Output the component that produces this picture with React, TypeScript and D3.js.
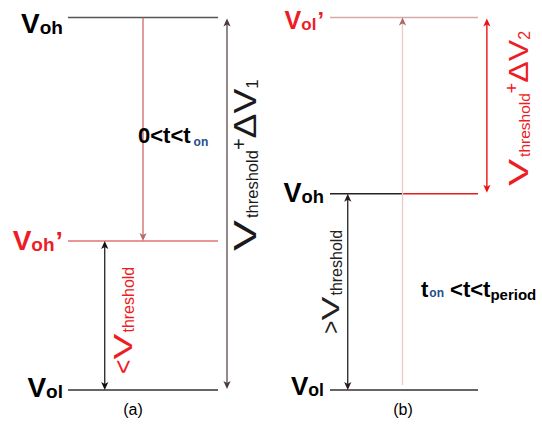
import React from 'react';
import * as d3 from 'd3';

const W = 542;
const H = 425;

// Voltage levels of each panel, normalised to the panel's highest level
const levelSubsA = ['oh', 'oh', 'ol'];
const levelPrimeA = [false, true, false];
const levelValuesA = [1, 0.4, 0];

const levelSubsB = ['ol', 'oh', 'ol'];
const levelPrimeB = [true, false, false];
const levelValuesB = [1, 0.527, 0];

// Time-interval captions
const captionA = ['0<t<t', 'on'];
const captionB = ['t', 'on', ' <t<t', 'period'];
const panelTags = ['(a)', '(b)'];

const RED = '#ee1c24';
const FONT = '"Liberation Sans", Arial, sans-serif';

let ctx: CanvasRenderingContext2D | null = null;
function textWidth(t: string, size: number, weight = 'normal') {
  if (!ctx) ctx = document.createElement('canvas').getContext('2d');
  ctx!.font = `${weight} ${size}px "Liberation Sans"`;
  return ctx!.measureText(t).width;
}

type Seg = {
  t: string;
  size: number;
  weight?: string;
  color?: string;
  shift?: number;
  stretch?: number;
  gap?: number;
};

function RichText({ x, y, segs, rotate = 0, anchor = 'start', color = '#000' }: {
  x: number; y: number; segs: Seg[]; rotate?: number; anchor?: string; color?: string;
}) {
  let off = 0;
  const items = segs.map((s) => {
    off += s.gap ?? 0;
    const it = { ...s, off };
    off += textWidth(s.t, s.size, s.weight ?? 'normal') * (s.stretch ?? 1);
    return it;
  });
  const start = anchor === 'middle' ? -off / 2 : anchor === 'end' ? -off : 0;
  return (
    <g transform={`translate(${x},${y}) rotate(${rotate})`}>
      {items.map((s, i) => (
        <text
          key={i}
          transform={`translate(${start + s.off},${s.shift ?? 0}) scale(${s.stretch ?? 1},1)`}
          fontSize={s.size}
          fontWeight={s.weight ?? 'normal'}
          fill={s.color ?? color}
          fontFamily={FONT}
          style={{ whiteSpace: 'pre' }}
        >
          {s.t}
        </text>
      ))}
    </g>
  );
}

// Filled arrow head with its tip at (x, y), pointing up (dir=-1) or down (dir=1)
function Head({ x, y, dir, color }: { x: number; y: number; dir: number; color: string }) {
  const L = 8, hw = 3.6, notch = 2;
  const p = d3.path();
  p.moveTo(x, y);
  p.lineTo(x - hw, y - dir * L);
  p.lineTo(x, y - dir * (L - notch));
  p.lineTo(x + hw, y - dir * L);
  p.closePath();
  return <path d={p.toString()} fill={color} />;
}

const yScale = d3.scaleLinear().domain([0, 1]).range([390, 17.5]);
const xA = d3.scaleLinear().domain([0, 1]).range([68, 218]);
const xB = d3.scaleLinear().domain([0, 1]).range([330, 478]);

function LevelLabel({ x, y, sub, prime, color, size }: {
  x: number; y: number; sub: string; prime: boolean; color: string; size: number;
}) {
  const segs: Seg[] = [
    { t: 'V', size, weight: 'bold' },
    { t: sub, size: size * 0.68, weight: 'bold', shift: 1 },
  ];
  if (prime) segs.push({ t: '\u2019', size: size * 0.95, weight: 'bold', gap: 1 });
  return <RichText x={x} y={y} segs={segs} anchor="end" color={color} />;
}

export default function App() {
  const labelDyA = [15, 9, 7];
  const labelDyB = [11, 8, 5];
  const labelColorA = ['#000', RED, '#000'];
  const labelColorB = [RED, '#000', '#000'];
  const labelSizeA = [28, 28, 28];
  const labelSizeB = [25, 27, 26];

  const lineColorA = ['#555', '#e57373', '#333'];
  const lineColorB = ['#d8a9a9', null, '#333'];

  const axA = xA(0.5), bkA = xA(0.245), grA = xA(1.06);
  const pkB = xB(0.49), bkB = xB(0.12), rdB = xB(1.06);

  return (
    <svg width={W} height={H} style={{ display: 'block', position: 'absolute', left: 0, top: 0 }}>
      <rect width={W} height={H} fill="#fff" />

      {/* Panel (a) levels */}
      {levelValuesA.map((v, i) => (
        <g key={'a' + i}>
          <line x1={xA(0)} x2={xA(1)} y1={yScale(v)} y2={yScale(v)} stroke={lineColorA[i]} strokeWidth={1.4} />
          <LevelLabel x={xA(0) - 5} y={yScale(v) + labelDyA[i]} sub={levelSubsA[i]} prime={levelPrimeA[i]}
            color={labelColorA[i]} size={labelSizeA[i]} />
        </g>
      ))}

      {/* Panel (a): drop from Voh to Voh' */}
      <line x1={axA} x2={axA} y1={yScale(levelValuesA[0])} y2={yScale(levelValuesA[1]) - 4} stroke="#c95c5c" strokeWidth={1.2} />
      <Head x={axA} y={yScale(levelValuesA[1])} dir={1} color="#b86a6a" />

      {/* Panel (a): below-threshold span */}
      <line x1={bkA} x2={bkA} y1={yScale(levelValuesA[1]) + 4} y2={yScale(levelValuesA[2]) - 4} stroke="#111" strokeWidth={1.2} />
      <Head x={bkA} y={yScale(levelValuesA[1])} dir={-1} color="#111" />
      <Head x={bkA} y={yScale(levelValuesA[2])} dir={1} color="#111" />

      {/* Panel (a): full swing */}
      <line x1={grA} x2={grA} y1={yScale(levelValuesA[0]) + 4} y2={yScale(levelValuesA[2]) - 4} stroke="#7a6a6a" strokeWidth={1.6} />
      <Head x={grA} y={yScale(levelValuesA[0]) + 1} dir={-1} color="#4a3a3a" />
      <Head x={grA} y={yScale(levelValuesA[2]) - 1} dir={1} color="#4a3a3a" />

      <RichText x={138} y={143} segs={[
        { t: captionA[0], size: 22, weight: 'bold' },
        { t: captionA[1], size: 12, weight: 'bold', color: '#1f4e8c', shift: 3, gap: 3 },
      ]} />

      <RichText x={256} y={251} rotate={-90} color="#1a1a1a" segs={[
        { t: 'V', size: 31, stretch: 1.5 },
        { t: 'threshold', size: 16.5, shift: 2, gap: 2 },
        { t: '+', size: 20, shift: -10 },
        { t: '\u0394V', size: 31, stretch: 1.2 },
        { t: '1', size: 17, shift: 2 },
      ]} />

      <RichText x={132} y={374} rotate={-90} color={RED} segs={[
        { t: '<', size: 25 },
        { t: 'V', size: 25, stretch: 1.55 },
        { t: 'threshold', size: 16, shift: 2, gap: 1 },
      ]} />

      <text x={133} y={415} textAnchor="middle" fontSize={16} fontFamily={FONT}>{panelTags[0]}</text>

      {/* Panel (b) levels */}
      {levelValuesB.map((v, i) => (
        <g key={'b' + i}>
          {lineColorB[i] ? (
            <line x1={xB(0)} x2={xB(1)} y1={yScale(v)} y2={yScale(v)} stroke={lineColorB[i]!} strokeWidth={1.4} />
          ) : (
            <>
              <line x1={xB(0)} x2={pkB} y1={yScale(v)} y2={yScale(v)} stroke="#222" strokeWidth={1.4} />
              <line x1={pkB} x2={xB(1)} y1={yScale(v)} y2={yScale(v)} stroke="#e02020" strokeWidth={1.4} />
            </>
          )}
          <LevelLabel x={xB(0) - 6} y={yScale(v) + labelDyB[i]} sub={levelSubsB[i]} prime={levelPrimeB[i]}
            color={labelColorB[i]} size={labelSizeB[i]} />
        </g>
      ))}

      {/* Panel (b): rise from Vol to Vol' */}
      <line x1={pkB} x2={pkB} y1={yScale(levelValuesB[2]) - 5} y2={yScale(levelValuesB[0]) + 4} stroke="#ecc8c8" strokeWidth={1.3} />
      <Head x={pkB} y={yScale(levelValuesB[0])} dir={-1} color="#a86a6a" />

      {/* Panel (b): above-threshold span */}
      <line x1={bkB} x2={bkB} y1={yScale(levelValuesB[1]) + 4} y2={yScale(levelValuesB[2]) - 4} stroke="#111" strokeWidth={1.2} />
      <Head x={bkB} y={yScale(levelValuesB[1])} dir={-1} color="#2a1a1a" />
      <Head x={bkB} y={yScale(levelValuesB[2])} dir={1} color="#2a1a1a" />

      {/* Panel (b): overshoot span */}
      <line x1={rdB} x2={rdB} y1={yScale(levelValuesB[0]) + 4} y2={yScale(levelValuesB[1]) - 4} stroke="#ee1111" strokeWidth={1.4} />
      <Head x={rdB} y={yScale(levelValuesB[0]) + 1} dir={-1} color="#ee1111" />
      <Head x={rdB} y={yScale(levelValuesB[1]) - 1} dir={1} color="#ee1111" />

      <RichText x={528} y={186} rotate={-90} color={RED} segs={[
        { t: 'V', size: 28, stretch: 1.45 },
        { t: 'threshold', size: 15.5, shift: 2, gap: 2 },
        { t: '+', size: 18, shift: -10 },
        { t: '\u0394V', size: 28, stretch: 1.15 },
        { t: '2', size: 16, shift: 2 },
      ]} />

      <RichText x={339} y={334} rotate={-90} color="#222" segs={[
        { t: '>', size: 23 },
        { t: 'V', size: 24, stretch: 1.5 },
        { t: 'threshold', size: 16, shift: 3, gap: 1 },
      ]} />

      <RichText x={421} y={297} segs={[
        { t: captionB[0], size: 22, weight: 'bold' },
        { t: captionB[1], size: 12, weight: 'bold', color: '#1f4e8c', gap: 1 },
        { t: captionB[2], size: 22, weight: 'bold' },
        { t: captionB[3], size: 15, weight: 'bold', shift: 3 },
      ]} />

      <text x={403} y={415} textAnchor="middle" fontSize={16} fontFamily={FONT}>{panelTags[1]}</text>
    </svg>
  );
}
